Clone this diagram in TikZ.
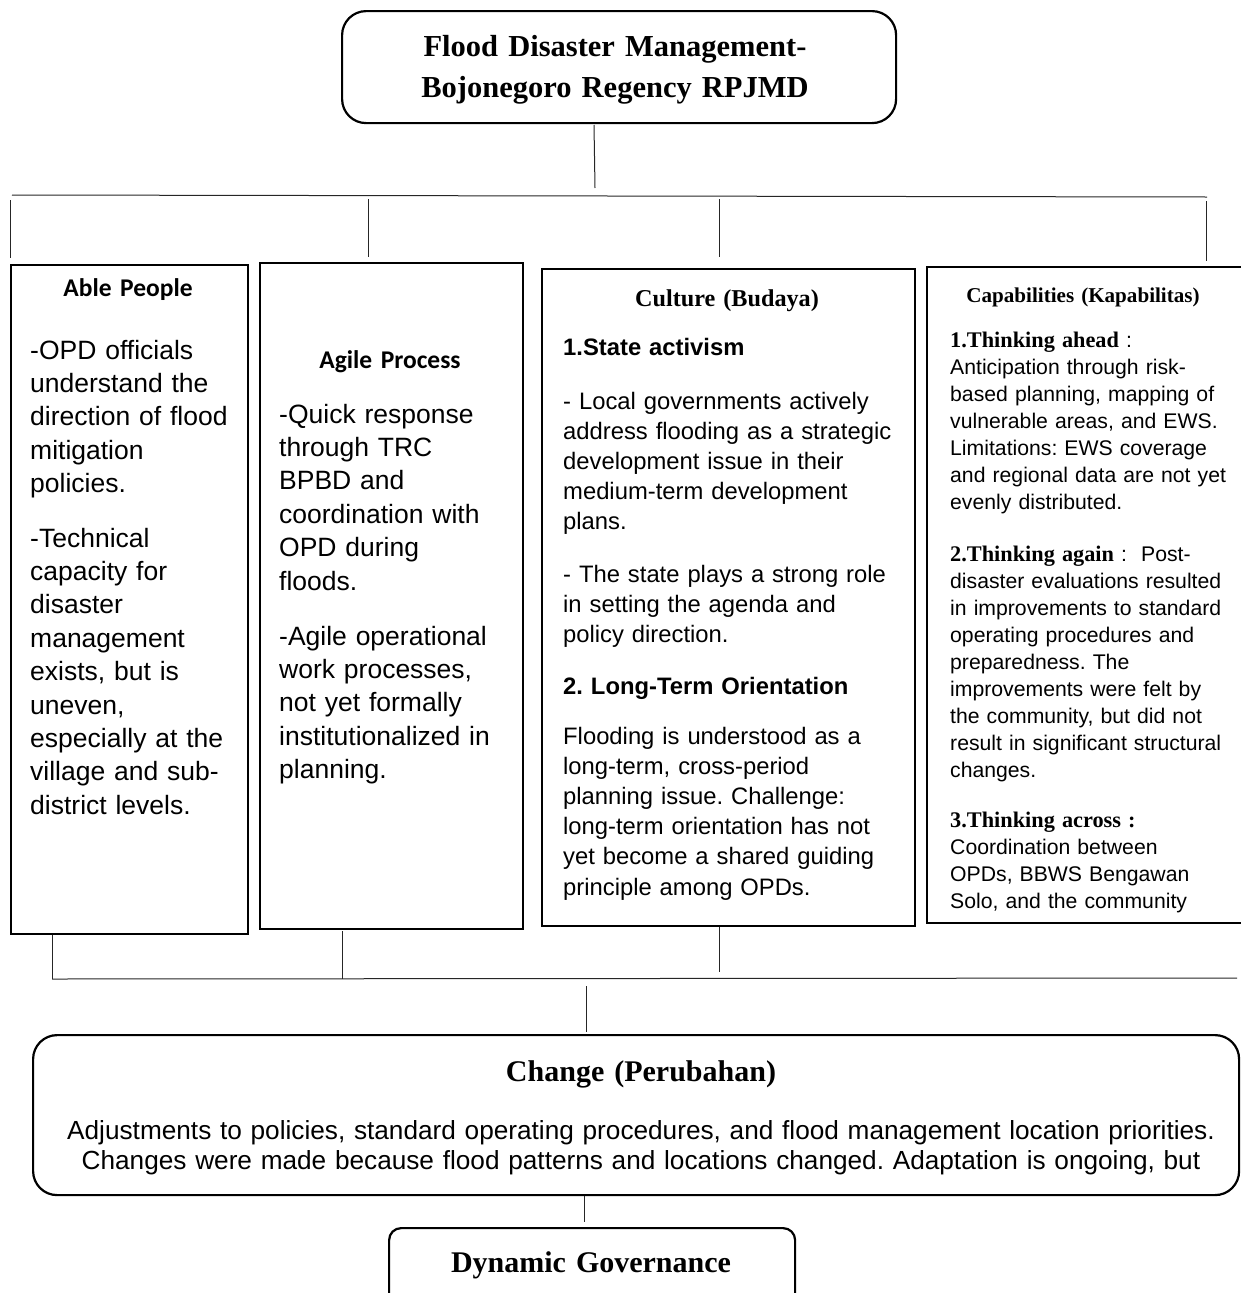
\documentclass[tikz,border=0pt]{standalone}
\usepackage{fontspec}
\setmainfont{Liberation Sans}
\newfontfamily\cambria{Liberation Serif}
\newfontfamily\calibri{Carlito}
\frenchspacing
\begin{document}
\begin{tikzpicture}[x=1pt,y=-1pt,
  boxsq/.style={draw, line width=2.2pt, inner sep=0pt, anchor=north west},
  boxrd/.style={boxsq, rounded corners=24pt},
  conn/.style={line width=1pt, black!85},
  txt/.style={inner sep=0pt, anchor=base west, align=left, text width=#1},
  txt/.default=330pt,
  ctxt/.style={inner sep=0pt, anchor=base, align=center, text width=#1},
  ctxt/.default=600pt,
  fA/.style={font=\frenchspacing\fontsize{26.5}{33.4}\selectfont},
  fC/.style={font=\frenchspacing\fontsize{23.8}{30.2}\selectfont},
  fK/.style={font=\frenchspacing\fontsize{21.2}{27}\selectfont},
  hCal/.style={font=\calibri\bfseries\fontsize{25.5}{30}\selectfont},
]
\useasboundingbox (0,0) rectangle (1241,1293);

% boxes
\node[boxrd, minimum width=554pt, minimum height=112pt] (top) at (341,10) {};
\node[boxsq, minimum width=237pt, minimum height=669pt] (able) at (10,264) {};
\node[boxsq, minimum width=263pt, minimum height=666pt] (agile) at (259,262) {};
\node[boxsq, minimum width=373pt, minimum height=657pt] (cult) at (541,268) {};
\node[boxsq, minimum width=330pt, minimum height=656pt] (capa) at (926,266) {};
\node[boxrd, minimum width=1206pt, minimum height=160pt] (chg) at (32,1034) {};
\node[boxrd, rounded corners=12pt, minimum width=406pt, minimum height=80pt] (dyn) at (388,1227) {};

% top title
\node[ctxt=540pt, font=\cambria\bfseries\fontsize{30.5}{41}\selectfont] (ttl) at (615,56)
  {Flood Disaster Management-\\Bojonegoro Regency RPJMD};

% Able People
\node[ctxt=220pt, hCal] (ablet) at (128,296) {Able People};
\node[txt=215pt, fA] (able1) at (30,359)
  {-OPD officials\\understand the\\direction of flood\\mitigation\\policies.};
\node[txt=215pt, fA] (able2) at (30,547)
  {-Technical\\capacity for\\disaster\\management\\exists, but is\\uneven,\\especially at the\\village and sub-\\district levels.};

% Agile Process
\node[ctxt=250pt, hCal] (agilet) at (390,368) {Agile Process};
\node[txt=240pt, fA] (agile1) at (279,423)
  {-Quick response\\through TRC\\BPBD and\\coordination with\\OPD during\\floods.};
\node[txt=240pt, fA] (agile2) at (279,645)
  {-Agile operational\\work processes,\\not yet formally\\institutionalized in\\planning.};

% Culture
\node[ctxt=360pt, font=\cambria\bfseries\fontsize{24.2}{28}\selectfont] (cultt) at (727,306) {Culture (Budaya)};
\node[txt=345pt, font=\bfseries\fontsize{23.8}{30.2}\selectfont] (cult1h) at (563,355) {1.State activism};
\node[txt=345pt, fC] (cult1) at (563,409)
  {- Local governments actively\\address flooding as a strategic\\development issue in their\\medium-term development\\plans.};
\node[txt=345pt, fC] (cult2) at (563,582)
  {- The state plays a strong role\\in setting the agenda and\\policy direction.};
\node[txt=345pt, font=\bfseries\fontsize{23.8}{30.2}\selectfont] (cult2h) at (563,694) {2. Long-Term Orientation};
\node[txt=345pt, fC] (cult3) at (563,744)
  {Flooding is understood as a\\long-term, cross-period\\planning issue. Challenge:\\long-term orientation has not\\yet become a shared guiding\\principle among OPDs.};

% Capabilities
\node[ctxt=310pt, font=\cambria\bfseries\fontsize{21.1}{26}\selectfont] (capat) at (1083,302) {Capabilities (Kapabilitas)};
\node[txt=285pt, fK] (capa1) at (950,347)
  {{\cambria\bfseries\fontsize{22.3}{27}\selectfont 1.Thinking ahead} :\\Anticipation through risk-\\based planning, mapping of\\vulnerable areas, and EWS.\\Limitations: EWS coverage\\and regional data are not yet\\evenly distributed.};
\node[txt=285pt, fK] (capa2) at (950,561)
  {{\cambria\bfseries\fontsize{22.3}{27}\selectfont 2.Thinking again} :\ \ Post-\\disaster evaluations resulted\\in improvements to standard\\operating procedures and\\preparedness. The\\improvements were felt by\\the community, but did not\\result in significant structural\\changes.};
\node[txt=285pt, fK] (capa3) at (950,827)
  {{\cambria\bfseries\fontsize{22.3}{27}\selectfont 3.Thinking across :}\\Coordination between\\OPDs, BBWS Bengawan\\Solo, and the community};

% Change
\node[ctxt=300pt, font=\cambria\bfseries\fontsize{30}{34}\selectfont] (chgt) at (641,1081) {Change (Perubahan)};
\node[ctxt=1200pt, font=\frenchspacing\fontsize{26.2}{30}\selectfont] (chgb) at (641,1139)
  {Adjustments to policies, standard operating procedures, and flood management location priorities.\\Changes were made because flood patterns and locations changed. Adaptation is ongoing, but};

% Dynamic
\node[ctxt=390pt, font=\cambria\bfseries\fontsize{30}{34}\selectfont] (dynt) at (591,1272) {Dynamic Governance};

% connectors (top)
\coordinate (t1) at (594,125); \coordinate (t2) at (595,188);
\coordinate (hL) at (12,195); \coordinate (hR) at (1207,197);
\coordinate (v1a) at (10,200); \coordinate (v1b) at (10,258);
\coordinate (v2a) at (368,199); \coordinate (v2b) at (368,257);
\coordinate (v3a) at (719,199); \coordinate (v3b) at (719,257);
\coordinate (v4a) at (1206,201); \coordinate (v4b) at (1206,261);
\draw[conn] (t1) -- (t2);
\draw[conn] (hL) -- (hR);
\draw[conn] (v1a) -- (v1b);
\draw[conn] (v2a) -- (v2b);
\draw[conn] (v3a) -- (v3b);
\draw[conn] (v4a) -- (v4b);

% connectors (bottom)
\coordinate (b1a) at (52,935); \coordinate (b1b) at (52,979);
\coordinate (b2a) at (342,931); \coordinate (b2b) at (342,979);
\coordinate (b3a) at (719,927); \coordinate (b3b) at (719,972);
\coordinate (bhR) at (1237,978);
\coordinate (b4a) at (586,986); \coordinate (b4b) at (586,1032);
\coordinate (b5a) at (584,1196); \coordinate (b5b) at (584,1222);
\draw[conn] (b1a) -- (b1b);
\draw[conn] (b2a) -- (b2b);
\draw[conn] (b3a) -- (b3b);
\draw[conn] (b1b) -- (bhR);
\draw[conn] (b4a) -- (b4b);
\draw[conn] (b5a) -- (b5b);
\end{tikzpicture}
\end{document}
